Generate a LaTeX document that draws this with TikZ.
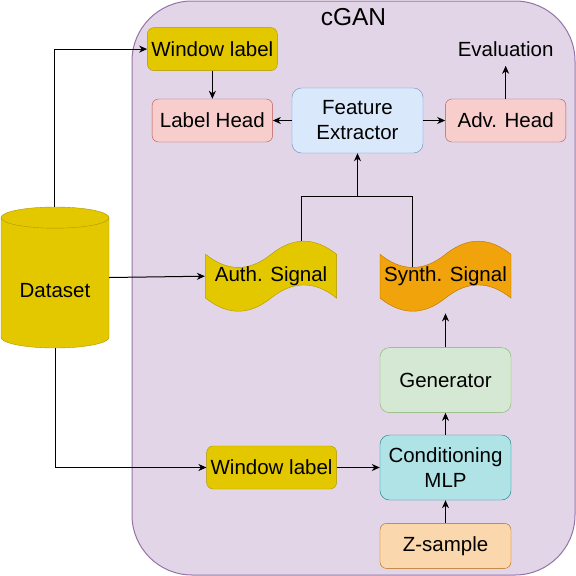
\documentclass[tikz,border=0pt]{standalone}
\usepackage{fontspec}
\setmainfont{Liberation Sans}
\usetikzlibrary{positioning,shapes.geometric,arrows.meta}

\definecolor{cganfill}{HTML}{E1D5E7}
\definecolor{cganline}{HTML}{9673A6}
\definecolor{yfill}{HTML}{E3C800}
\definecolor{yline}{HTML}{B09500}
\definecolor{rfill}{HTML}{F8CECC}
\definecolor{rline}{HTML}{B85450}
\definecolor{bfill}{HTML}{DAE8FC}
\definecolor{bline}{HTML}{6C8EBF}
\definecolor{gfill}{HTML}{D5E8D4}
\definecolor{gline}{HTML}{82B366}
\definecolor{cfill}{HTML}{B0E3E6}
\definecolor{cline}{HTML}{0E8088}
\definecolor{ofill}{HTML}{FAD7AC}
\definecolor{oline}{HTML}{B46504}
\definecolor{sfill}{HTML}{F0A30A}
\definecolor{sline}{HTML}{BD7000}

\tikzset{
  arr/.style={-{Stealth[length=8pt,width=7pt,inset=2.5pt]}, line width=1pt},
  cganbox/.style={draw=cganline, fill=cganfill, line width=1pt, rounded corners=60pt,
    minimum width=443pt, minimum height=574pt},
  ybox/.style={draw=yline, fill=yfill, rounded corners=6.5pt, minimum width=130pt, minimum height=43pt},
  redbox/.style={draw=rline, fill=rfill, rounded corners=6.5pt, minimum width=120.5pt, minimum height=43pt},
  bluebox/.style={draw=bline, fill=bfill, rounded corners=9.5pt, minimum width=131pt, minimum height=65pt, align=center},
  greenbox/.style={draw=gline, fill=gfill, rounded corners=9.5pt, minimum width=131pt, minimum height=65pt},
  cyanbox/.style={draw=cline, fill=cfill, rounded corners=9.5pt, minimum width=131pt, minimum height=65pt, align=center},
  orangebox/.style={draw=oline, fill=ofill, rounded corners=6.5pt, minimum width=131pt, minimum height=45pt},
  cylbox/.style={cylinder, shape border rotate=90, aspect=0.3, draw=yline, fill=yfill,
    minimum width=108pt, minimum height=141pt, inner sep=0pt, text height=29pt, text depth=0pt},
  tapebox/.style 2 args={minimum width=132pt, minimum height=74pt, inner sep=0pt,
    path picture={
      \filldraw[fill=#1, draw=#2] ([xshift=0.5pt,yshift=-15.1pt]path picture bounding box.north west)
        .. controls +(21.83pt,-17.52pt) and +(-21.83pt,-17.52pt) .. ++(65.5pt,0pt)
        .. controls +(21.83pt,17.52pt) and +(-21.83pt,17.52pt) .. ++(65.5pt,0pt)
        -- ++(0pt,-43.8pt)
        .. controls +(-21.83pt,17.52pt) and +(21.83pt,17.52pt) .. ++(-65.5pt,0pt)
        .. controls +(-21.83pt,-17.52pt) and +(21.83pt,-17.52pt) .. ++(-65.5pt,0pt)
        -- cycle;
    }},
}

\begin{document}
\begin{tikzpicture}[x=1pt, y=-1pt, font=\fontsize{20.5}{25}\selectfont]
  \useasboundingbox (0,0) rectangle (576,576);
  % Nodes
  \node[cganbox] (cgan) at (353.5,288) {} ; %
  \node[below=8pt of cgan.north, inner sep=0pt, font=\fontsize{24.5}{29}\selectfont] (title) {cGAN} ; %
  \node[cyanbox] (cond) at (445.5,467.5) {Conditioning\\MLP} ; %
  \node[orangebox, below=23pt of cond] (zsample) {Z-sample} ; %
  \node[greenbox, above=22pt of cond] (gen) {Generator} ; %
  \node[tapebox={sfill}{sline}, above=34pt of gen] (synth) {Synth. Signal} ; %
  \node[ybox, left=43pt of cond] (winbot) {Window label} ; %
  \node[tapebox={yfill}{yline}, left=42pt of synth] (auth) {Auth. Signal} ; %
  \node[cylbox, anchor=shape center] (data) at (55,277.5) {Dataset} ; %
  \node[bluebox] (feat) at (357.5,120.5) {Feature\\Extractor} ; %
  \node[redbox, left=19pt of feat] (lhead) {Label Head} ; %
  \node[redbox, right=22pt of feat] (adv) {Adv. Head} ; %
  \node[ybox, above=28pt of lhead] (wintop) {Window label} ; %
  \node[above=33pt of adv, inner sep=9pt] (eval) {Evaluation} ; %
  \coordinate[below=43pt of feat] (join) ; %
  % Edges
  \draw[arr] (data.north) |- (wintop.west) ; %
  \draw[arr] (data.south) |- (winbot.west) ; %
  \draw[arr] (data.shape center -| data.east) -- (auth.west) ; %
  \draw[arr] (winbot) -- (cond) ; %
  \draw[arr] (zsample) -- (cond) ; %
  \draw[arr] (cond) -- (gen) ; %
  \draw[arr] (gen) -- (synth) ; %
  \draw[arr] (feat) -- (lhead) ; %
  \draw[arr] (feat) -- (adv) ; %
  \draw[arr] (wintop) -- (lhead) ; %
  \draw[arr] (adv) -- (eval) ; %
  \draw[line width=1pt] ([xshift=97pt,yshift=-1.5pt]auth.north west) |- (join) -| ([xshift=33pt,yshift=-28pt]synth.north west) ; %
  \draw[arr] (join) -- (feat) ; %
\end{tikzpicture}
\end{document}
